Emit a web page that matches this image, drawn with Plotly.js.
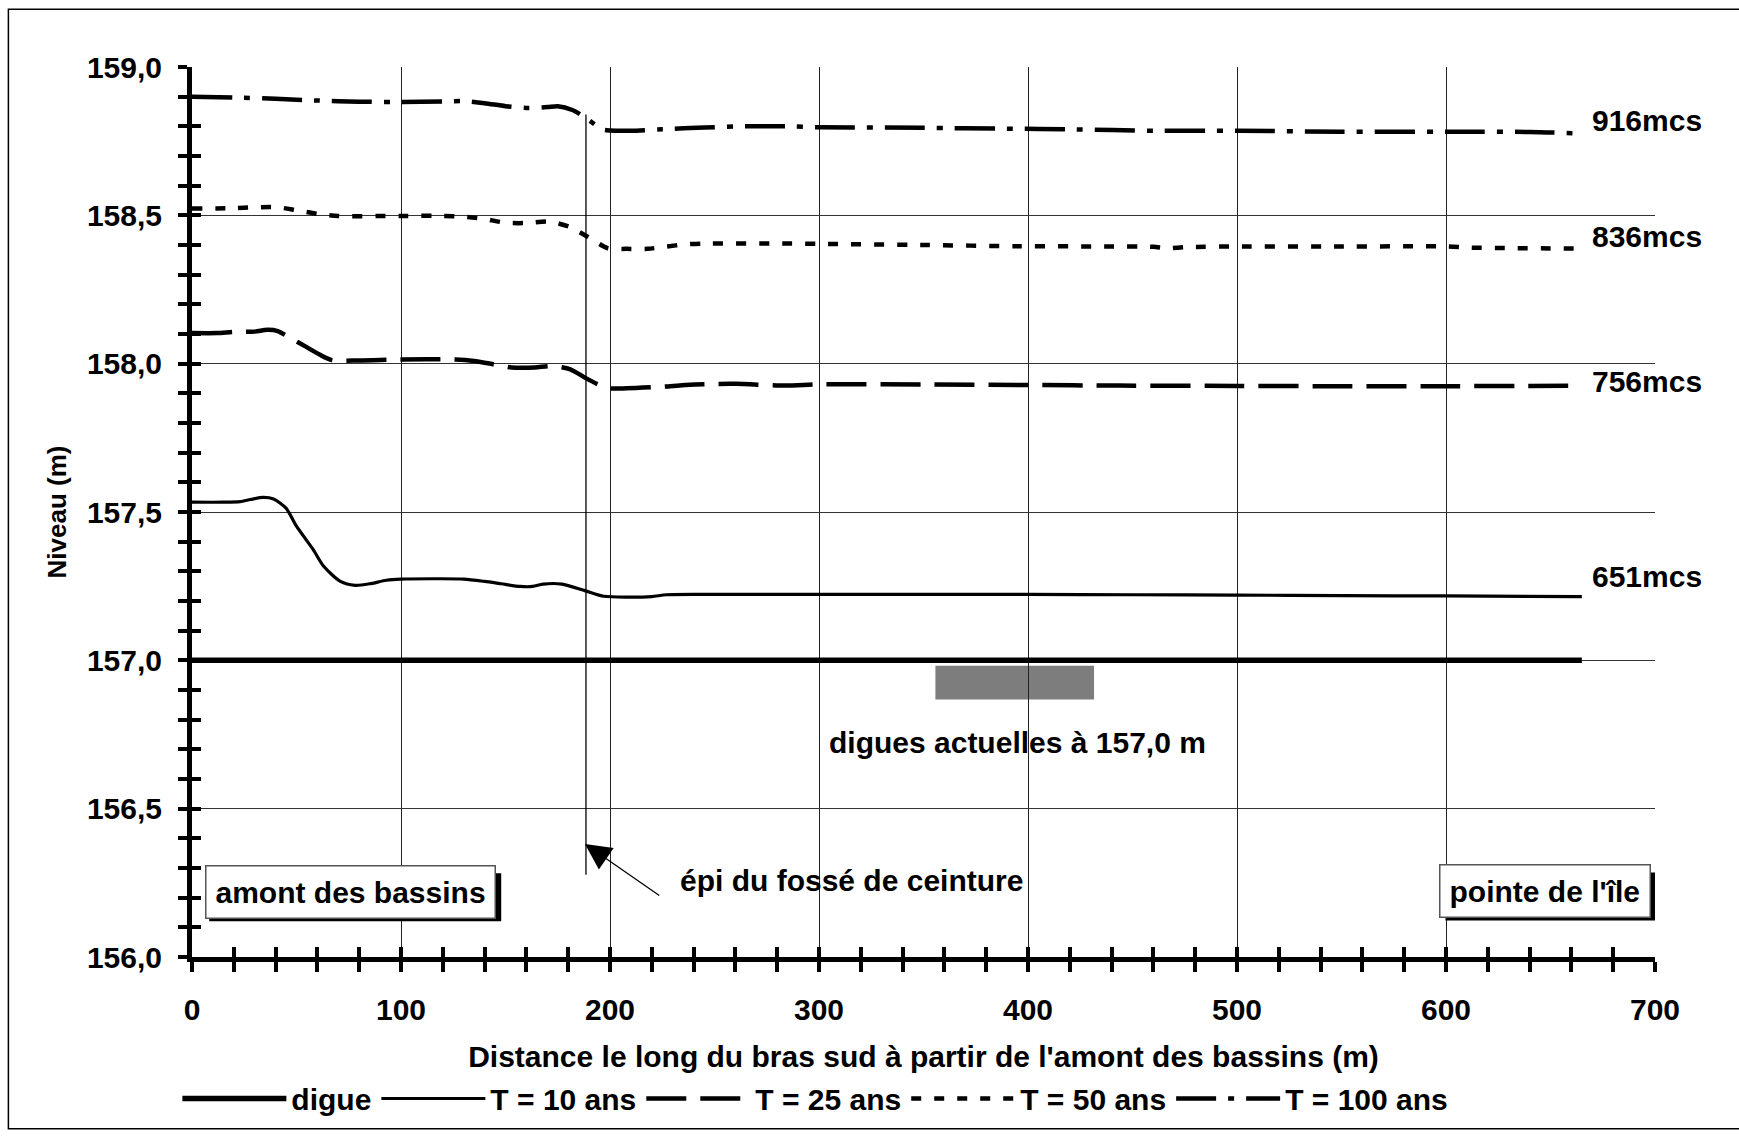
<!DOCTYPE html>
<html>
<head>
<meta charset="utf-8">
<script src="https://cdn.plot.ly/plotly-3.0.1.min.js"></script>
<style>html,body{margin:0;padding:0;background:#fff;}#chart{width:1739px;height:1137px;}</style>
</head>
<body>
<div id="chart"></div>
<script>
// ---- data ----
const digueX = [0, 665];
const digueY = [157.0, 157.0];

const t10X = [0, 15, 23, 28, 34, 39, 45, 50, 58, 63, 71, 78, 85, 93, 100, 115, 130, 140, 148, 157, 163, 168, 177, 188, 197, 208, 220, 227, 250, 300, 350, 400, 450, 500, 550, 600, 665];
const t10Y = [157.533, 157.533, 157.535, 157.542, 157.549, 157.544, 157.513, 157.452, 157.373, 157.317, 157.266, 157.253, 157.258, 157.270, 157.274, 157.275, 157.274, 157.266, 157.258, 157.249, 157.249, 157.257, 157.257, 157.235, 157.216, 157.213, 157.215, 157.221, 157.222, 157.222, 157.222, 157.222, 157.221, 157.220, 157.218, 157.217, 157.215];

const t25X = [0, 12, 20, 30, 36, 41, 47, 54, 61, 67, 80, 100, 126, 135, 144, 153, 164, 172, 181, 188, 194, 199, 208, 227, 236, 245, 260, 284, 300, 350, 400, 443, 500, 551, 600, 665];
const t25Y = [158.103, 158.103, 158.107, 158.108, 158.114, 158.110, 158.087, 158.059, 158.031, 158.012, 158.011, 158.014, 158.014, 158.009, 157.998, 157.987, 157.987, 157.992, 157.981, 157.953, 157.931, 157.917, 157.917, 157.923, 157.928, 157.931, 157.932, 157.926, 157.930, 157.930, 157.928, 157.926, 157.925, 157.924, 157.924, 157.926];

const t50X = [0, 20, 30, 41, 50, 60, 70, 100, 120, 130, 139, 150, 160, 171, 181, 188, 192, 199, 208, 218, 227, 236, 245, 283, 300, 350, 395, 440, 460, 466, 476, 500, 550, 600, 612, 665];
const t50Y = [158.523, 158.524, 158.527, 158.527, 158.517, 158.505, 158.498, 158.498, 158.498, 158.495, 158.489, 158.475, 158.474, 158.479, 158.460, 158.433, 158.416, 158.389, 158.387, 158.387, 158.395, 158.402, 158.405, 158.405, 158.404, 158.400, 158.396, 158.395, 158.394, 158.389, 158.393, 158.395, 158.395, 158.395, 158.391, 158.388];

const t100X = [0, 20, 40, 60, 80, 100, 120, 130, 140, 150, 160, 170, 175, 182, 188, 192, 196, 200, 210, 225, 245, 265, 285, 300, 350, 390, 420, 460, 500, 550, 600, 640, 665];
const t100Y = [158.900, 158.897, 158.893, 158.887, 158.883, 158.882, 158.884, 158.885, 158.878, 158.868, 158.862, 158.865, 158.868, 158.855, 158.830, 158.810, 158.790, 158.786, 158.785, 158.790, 158.796, 158.800, 158.800, 158.797, 158.795, 158.792, 158.790, 158.785, 158.785, 158.782, 158.782, 158.781, 158.776];

const seriesNames = ["digue", "T = 10 ans", "T = 25 ans", "T = 50 ans", "T = 100 ans"];
const flowLabels = ["916mcs", "836mcs", "756mcs", "651mcs"];
const flowLabelY = [158.82, 158.428, 157.941, 157.283];

const xTickVals = [0, 100, 200, 300, 400, 500, 600, 700];
const yTickVals = [156.0, 156.5, 157.0, 157.5, 158.0, 158.5, 159.0];

// ---- styles ----
const FONT = "'Liberation Sans', Arial, Helvetica, sans-serif";
const fontB = (s) => ({family: FONT, size: s, color: '#000', weight: 'bold'});

const traces = [
  {x: digueX, y: digueY, name: seriesNames[0], mode: 'lines', xaxis: 'x2', yaxis: 'y2',
   line: {color: '#000', width: 5.5}},
  {x: t10X, y: t10Y, name: seriesNames[1], mode: 'lines',
   line: {color: '#000', width: 3.2, shape: 'spline', smoothing: 0.7}},
  {x: t25X, y: t25Y, name: seriesNames[2], mode: 'lines',
   line: {color: '#000', width: 4.5, dash: '40px,14px', shape: 'spline', smoothing: 0.7}},
  {x: t50X, y: t50Y, name: seriesNames[3], mode: 'lines',
   line: {color: '#000', width: 4.5, dash: '10px,13px', shape: 'spline', smoothing: 0.7}},
  {x: t100X, y: t100Y, name: seriesNames[4], mode: 'lines',
   line: {color: '#000', width: 4.5, dash: '40px,12px,6px,12px', shape: 'spline', smoothing: 0.7}}
];

const annotations = [];
flowLabels.forEach((t, i) => {
  annotations.push({x: 669, y: flowLabelY[i], xref: 'x', yref: 'y', text: t, showarrow: false,
    xanchor: 'left', yanchor: 'middle', font: fontB(30)});
});
annotations.push({x: 394.8, y: 156.722, xref: 'x', yref: 'y', text: 'digues actuelles à 157,0 m',
  showarrow: false, font: fontB(30)});
annotations.push({x: 315.5, y: 156.258, xref: 'x', yref: 'y', text: 'épi du fossé de ceinture',
  showarrow: false, font: fontB(30)});
// arrow
annotations.push({x: 188.0, y: 156.381, ax: 224.3, ay: 156.204, axref: 'x', ayref: 'y', xref: 'x', yref: 'y',
  text: '', showarrow: true, arrowhead: 2, arrowsize: 4, arrowwidth: 1.3, arrowcolor: '#000'});

const shapes = [
  // outer frame
  {type: 'rect', xref: 'paper', yref: 'paper', x0: -0.1255, x1: 1.06, y0: -0.193, y1: 1.065,
   line: {color: '#000', width: 1.5}, layer: 'below'},
  // grey block under the dike
  {type: 'rect', xref: 'x', yref: 'y', x0: 355.7, x1: 431.6, y0: 156.868, y1: 156.982,
   fillcolor: '#7d7d7d', line: {width: 0}, layer: 'below'},
  // vertical marker of the groyne
  {type: 'line', xref: 'x', yref: 'y', x0: 188.5, x1: 188.5, y0: 156.277, y1: 158.84,
   line: {color: '#000', width: 1.3}}
];

// boxed labels with a drop shadow (shadow = pixel-sized rect behind the box)
function boxed(txt, x, y, halfW, halfH) {
  shapes.push({type: 'rect', xref: 'x', yref: 'y', xsizemode: 'pixel', ysizemode: 'pixel',
    xanchor: x, yanchor: y, x0: -halfW + 5, x1: halfW + 5, y0: -halfH - 5, y1: halfH - 5,
    fillcolor: '#000', line: {width: 0}, layer: 'above'});
  annotations.push({x: x, y: y, xref: 'x', yref: 'y', text: txt, showarrow: false,
    font: fontB(30), bgcolor: '#fff', bordercolor: '#555', borderwidth: 1.5, borderpad: 9});
}
boxed('amont des bassins', 75.7, 156.218, 146, 24);
boxed("pointe de l'île", 647.6, 156.221, 105, 24);

const layout = {
  width: 1739, height: 1137, autosize: false,
  margin: {l: 192, r: 84, t: 67, b: 178},
  paper_bgcolor: '#fff', plot_bgcolor: '#fff',
  separators: ',.',
  font: fontB(30),
  showlegend: true,
  legend: {orientation: 'h', x: -0.010, xanchor: 'left', y: -0.159, yanchor: 'middle',
    font: fontB(30), itemwidth: 104, bgcolor: 'rgba(0,0,0,0)', traceorder: 'normal'},
  xaxis: {range: [0, 700], tickvals: xTickVals, tickformat: 'd', showgrid: true, gridcolor: '#222', gridwidth: 1,
    showline: true, linecolor: '#000', linewidth: 5, zeroline: false,
    ticks: 'outside', ticklen: 10, tickwidth: 4, tickcolor: '#000', ticklabelstandoff: 12,
    minor: {dtick: 20, tick0: 0, ticks: 'outside', ticklen: 10, tickwidth: 4, tickcolor: '#000', showgrid: false},
    tickfont: fontB(30), fixedrange: true,
    title: {text: "Distance le long du bras sud à partir de l'amont des bassins (m)", font: fontB(30), standoff: 22}},
  yaxis: {range: [156, 159], tickvals: yTickVals, tickformat: '.1f', showgrid: true, gridcolor: '#333', gridwidth: 1,
    showline: true, linecolor: '#000', linewidth: 5, zeroline: false,
    ticks: 'outside', ticklen: 9, tickwidth: 4, tickcolor: '#000', ticklabelstandoff: 10,
    minor: {dtick: 0.1, tick0: 156, ticks: 'outside', ticklen: 9, tickwidth: 4, tickcolor: '#000', showgrid: false},
    tickfont: fontB(30), fixedrange: true,
    title: {text: 'Niveau (m)', font: fontB(26), standoff: 14}},
  xaxis2: {overlaying: 'x', anchor: 'y2', range: [0, 700], showgrid: false, showline: false, zeroline: false,
    showticklabels: false, tickvals: xTickVals, ticks: 'inside', ticklen: 10, tickwidth: 4, tickcolor: '#000',
    minor: {dtick: 20, tick0: 0, ticks: 'inside', ticklen: 10, tickwidth: 4, tickcolor: '#000', showgrid: false},
    fixedrange: true},
  yaxis2: {overlaying: 'y', anchor: 'x2', range: [156, 159], showgrid: false, showline: false, zeroline: false,
    showticklabels: false, tickvals: yTickVals, ticks: 'inside', ticklen: 9, tickwidth: 4, tickcolor: '#000',
    minor: {dtick: 0.1, tick0: 156, ticks: 'inside', ticklen: 9, tickwidth: 4, tickcolor: '#000', showgrid: false},
    fixedrange: true},
  annotations: annotations,
  shapes: shapes
};

Plotly.newPlot('chart', traces, layout, {displayModeBar: false, staticPlot: true});
</script>
</body>
</html>
